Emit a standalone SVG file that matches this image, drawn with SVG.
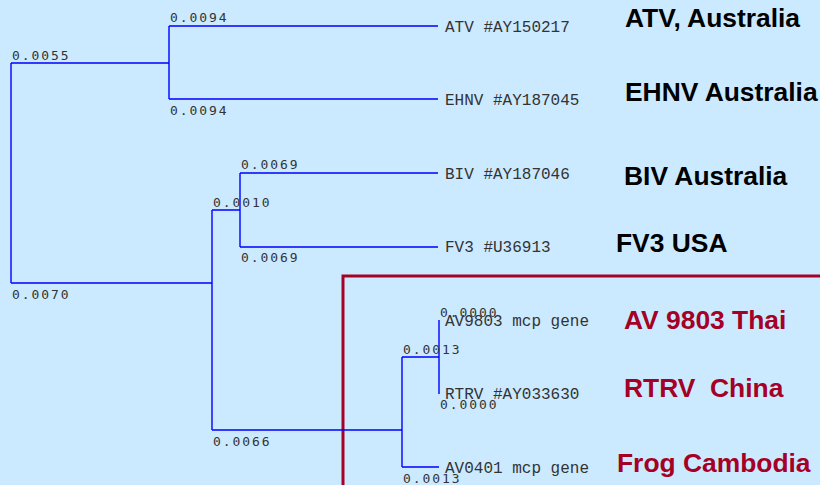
<svg xmlns="http://www.w3.org/2000/svg" width="820" height="485" viewBox="0 0 820 485">
<style>
.br{fill:none;stroke:#0000ff;stroke-width:1.4}
.bl{font-family:"DejaVu Sans Mono",monospace;font-size:13px;letter-spacing:1.9px;fill:#333}
.lf{font-family:"Liberation Mono",monospace;font-size:16px;fill:#333}
.big{font-family:"Liberation Sans",Arial,sans-serif;font-size:26.4px;font-weight:bold;fill:#000}
.red{fill:#a50025}
</style>
<rect x="0" y="0" width="820" height="485" fill="#cceaff"/>
<rect id="highlight" x="343" y="276" width="500" height="230" fill="none" stroke="#a50025" stroke-width="3"/>
<g id="connectors">
<path class="br" d="M11,63 V283 M11,63 H169 M169,26 V99 M169,26 H438 M169,99 H438 M11,283 H212 M212,210 V430 M212,210 H240 M240,173 V247 M240,173 H438 M240,247 H438 M212,430 H402 M402,357 V467 M402,357 H439 M439,320 V394 M402,467 H439"/>
</g>
<g id="branch-labels">
<text class="bl" x="12" y="60">0.0055</text>
<text class="bl" x="170" y="22">0.0094</text>
<text class="bl" x="170" y="115">0.0094</text>
<text class="bl" x="12" y="299">0.0070</text>
<text class="bl" x="213" y="207">0.0010</text>
<text class="bl" x="241" y="169">0.0069</text>
<text class="bl" x="241" y="262">0.0069</text>
<text class="bl" x="213" y="446">0.0066</text>
<text class="bl" x="403" y="354">0.0013</text>
<text class="bl" x="403" y="483">0.0013</text>
<text class="bl" x="440" y="317">0.0000</text>
<text class="bl" x="440" y="409">0.0000</text>
</g>
<g id="atv"><text class="lf" x="445" y="32">ATV #AY150217</text><text class="big" x="625" y="27">ATV, Australia</text></g>
<g id="ehnv"><text class="lf" x="445" y="105">EHNV #AY187045</text><text class="big" x="625" y="101">EHNV Australia</text></g>
<g id="biv"><text class="lf" x="445" y="179">BIV #AY187046</text><text class="big" x="624" y="185">BIV Australia</text></g>
<g id="fv3"><text class="lf" x="445" y="252">FV3 #U36913</text><text class="big" x="616" y="252">FV3 USA</text></g>
<g id="av9803"><text class="lf" x="445" y="326">AV9803 mcp gene</text><text class="big red" x="624" y="329">AV 9803 Thai</text></g>
<g id="rtrv"><text class="lf" x="445" y="399">RTRV #AY033630</text><text class="big red" x="624" y="397" xml:space="preserve">RTRV  China</text></g>
<g id="av0401"><text class="lf" x="445" y="473">AV0401 mcp gene</text><text class="big red" x="617" y="472">Frog Cambodia</text></g>
</svg>
